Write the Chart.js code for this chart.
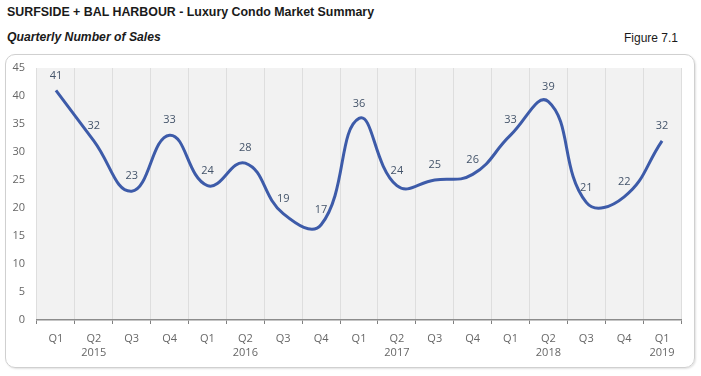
<!DOCTYPE html>
<html>
<head>
<meta charset="utf-8">
<script src="https://cdn.jsdelivr.net/npm/chart.js@4"></script>
<style>
  body { margin: 0; background: #fff; }
  #wrap { position: relative; width: 701px; height: 376px; font-family: "Liberation Sans", Arial, sans-serif; }
  #title { position: absolute; left: 7px; top: 5px; font-size: 12.4px; font-weight: bold; color: #1a1a1a; }
  #subtitle { position: absolute; left: 7px; top: 30px; font-size: 12.2px; font-weight: bold; font-style: italic; color: #1a1a1a; }
  #figure { position: absolute; right: 23px; top: 31px; font-size: 12px; color: #1a1a1a; }
  #box { position: absolute; left: 5px; top: 54px; width: 688px; height: 312px; border: 1.5px solid #d0d0d0; border-radius: 10px; box-shadow: 1px 1px 2px rgba(0,0,0,0.12); }
  #chart { position: absolute; left: 0; top: 0; }
</style>
</head>
<body>
<div id="wrap">
  <div id="title">SURFSIDE + BAL HARBOUR - Luxury Condo Market Summary</div>
  <div id="subtitle">Quarterly Number of Sales</div>
  <div id="figure">Figure 7.1</div>
  <div id="box"></div>
  <canvas id="chart" width="701" height="376"></canvas>
</div>
<script>
// quarters and year labels (year shown under Q2, last one under Q1)
const quarters = ['Q1','Q2','Q3','Q4','Q1','Q2','Q3','Q4','Q1','Q2','Q3','Q4','Q1','Q2','Q3','Q4','Q1'];
const years    = ['','2015','','','','2016','','','','2017','','','','2018','','','2019'];
const sales    = [41, 32, 23, 33, 24, 28, 19, 17, 36, 24, 25, 26, 33, 39, 21, 22, 32];

const labels = quarters.map((q, i) => years[i] ? [q, years[i]] : q);
const tickFont = { family: '"Open Sans", "DejaVu Sans", sans-serif', size: 11, lineHeight: 1.35 };

// light gray plot background
const plotBg = {
  id: 'plotBg',
  beforeDraw(chart) {
    const a = chart.chartArea;
    const c = chart.ctx;
    c.save();
    c.fillStyle = '#f2f2f2';
    c.fillRect(a.left, a.top, a.right - a.left, a.bottom - a.top);
    c.restore();
  }
};

// value labels above each point
const valueLabels = {
  id: 'valueLabels',
  afterDatasetsDraw(chart) {
    const c = chart.ctx;
    const meta = chart.getDatasetMeta(0);
    c.save();
    c.fillStyle = '#44546a';
    c.font = '11px "Open Sans", "DejaVu Sans", sans-serif';
    c.textAlign = 'center';
    c.textBaseline = 'middle';
    meta.data.forEach((pt, i) => {
      c.fillText(sales[i], pt.x, pt.y - 15);
    });
    c.restore();
  }
};

new Chart(document.getElementById('chart').getContext('2d'), {
  type: 'line',
  data: {
    labels: labels,
    datasets: [{
      data: sales,
      borderColor: '#3d5ba9',
      borderWidth: 3,
      pointRadius: 0,
      tension: 0.45,
      fill: false,
      clip: false
    }]
  },
  options: {
    responsive: false,
    animation: false,
    layout: { padding: { left: 0, right: 20, top: 68, bottom: 12 } },
    plugins: {
      legend: { display: false },
      tooltip: { enabled: false }
    },
    scales: {
      x: {
        offset: true,
        grid: {
          offset: true,
          color: '#dedede',
          tickColor: '#808080',
          tickLength: 4,
          drawTicks: true
        },
        border: { display: true, color: '#8c8c8c', width: 1.5 },
        ticks: {
          color: '#666666',
          font: tickFont,
          padding: 7,
          maxRotation: 0,
          autoSkip: false
        },
        afterFit(s) { s.height = 44; }
      },
      y: {
        min: 0,
        max: 45,
        ticks: {
          stepSize: 5,
          color: '#666666',
          font: tickFont,
          padding: 12
        },
        grid: { display: false, drawTicks: false, tickLength: 0 },
        border: { display: false },
        afterFit(s) { s.width = 37; }
      }
    }
  },
  plugins: [plotBg, valueLabels]
});
</script>
</body>
</html>
